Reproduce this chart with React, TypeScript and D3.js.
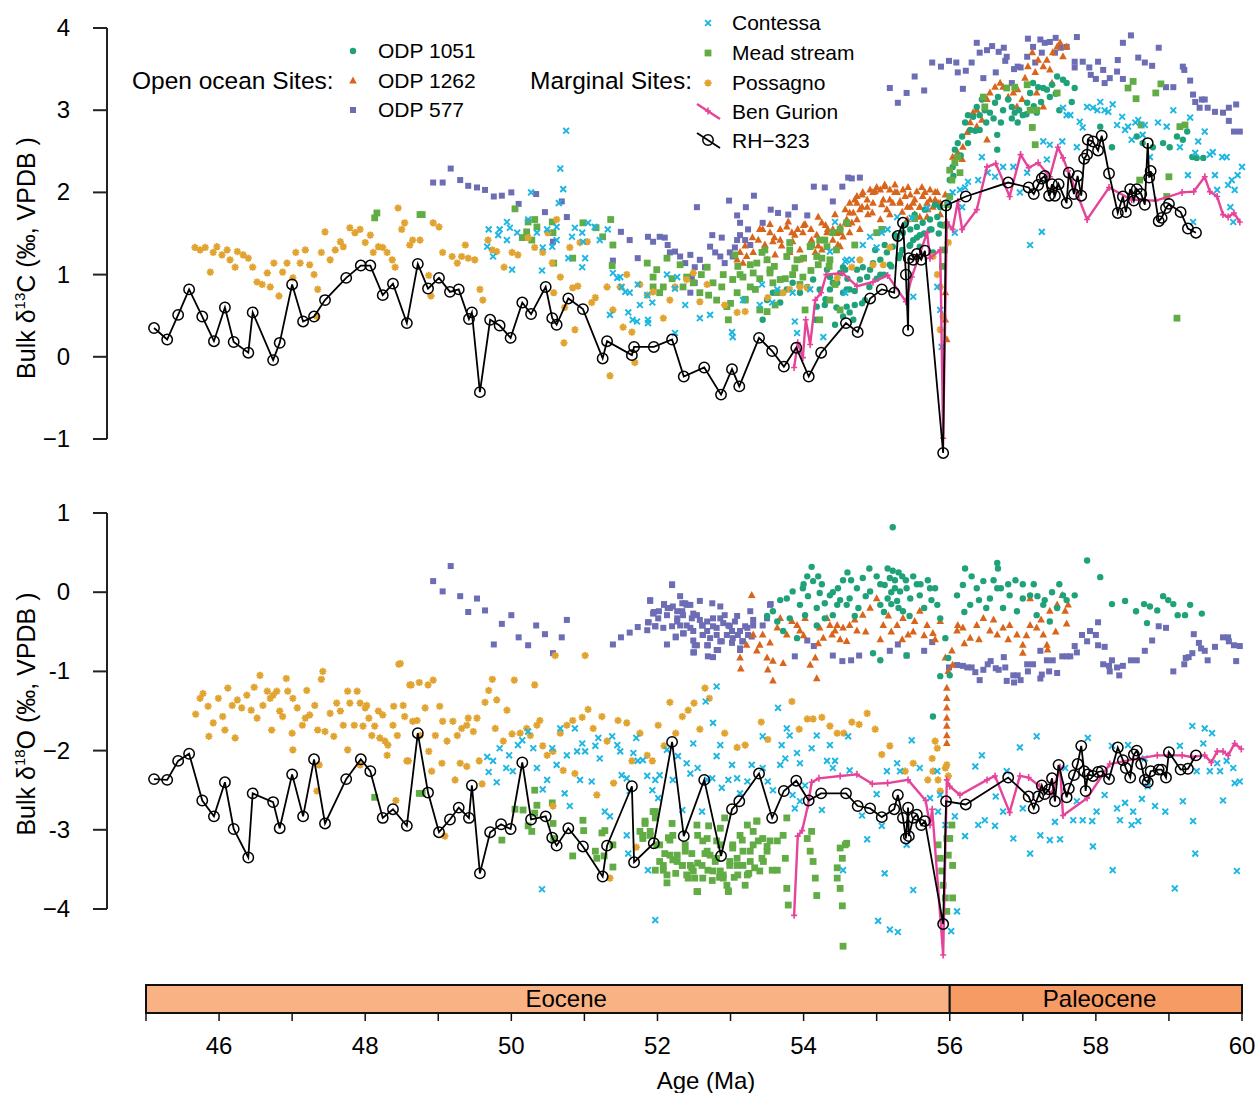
import React from 'react';
import * as d3 from 'd3';

type Pt = [number, number];

// ---------- data: age (Ma), value (permil) ----------
const xTicks = d3.range(45, 61);
const xTickLabels = [46, 48, 50, 52, 54, 56, 58, 60];
const yTicksC = [-1, 0, 1, 2, 3, 4];
const yLabelsC = ['−1', '0', '1', '2', '3', '4'];
const yTicksO = [-4, -3, -2, -1, 0, 1];
const yLabelsO = ['−4', '-3', '−2', '-1', '0', '1'];
const epochs = [
  { name: 'Eocene', from: 45, to: 56, labelAt: 50.75 },
  { name: 'Paleocene', from: 56, to: 60, labelAt: 58.05 },
];

const rhC: Pt[] = [[45.11,0.35],[45.29,0.21],[45.44,0.51],[45.59,0.82],[45.77,0.49],[45.93,0.19],[46.08,0.60],[46.20,0.18],[46.40,0.05],[46.46,0.54],[46.74,-0.04],[46.83,0.17],[47.00,0.88],[47.15,0.43],[47.30,0.49],[47.45,0.69],[47.74,0.96],[47.94,1.11],[48.07,1.11],[48.24,0.75],[48.38,0.89],[48.57,0.41],[48.72,1.13],[48.86,0.83],[49.01,0.96],[49.16,0.79],[49.28,0.82],[49.42,0.46],[49.46,0.54],[49.57,-0.43],[49.71,0.45],[49.84,0.38],[49.99,0.23],[50.15,0.66],[50.27,0.52],[50.47,0.85],[50.56,0.47],[50.62,0.39],[50.78,0.71],[50.98,0.58],[51.25,-0.02],[51.31,0.19],[51.65,0.02],[51.68,0.12],[51.95,0.12],[52.20,0.21],[52.36,-0.24],[52.64,-0.13],[52.87,-0.46],[53.02,-0.15],[53.12,-0.36],[53.39,0.23],[53.57,0.07],[53.73,-0.12],[53.90,0.11],[54.07,-0.24],[54.24,0.05],[54.58,0.41],[54.74,0.30],[54.91,0.71],[55.07,0.82],[55.24,0.78],[55.29,1.47],[55.36,1.63],[55.40,1.00],[55.43,0.32],[55.44,1.20],[55.50,1.18],[55.55,1.25],[55.61,1.18],[55.66,1.29],[55.91,-1.17],[55.95,1.84],[56.22,1.95],[56.80,2.12],[57.08,2.06],[57.15,1.98],[57.21,2.09],[57.26,2.17],[57.30,2.20],[57.36,1.96],[57.40,2.10],[57.44,1.96],[57.49,2.10],[57.60,1.87],[57.63,2.24],[57.70,1.98],[57.75,2.20],[57.80,1.96],[57.84,2.41],[57.88,2.46],[57.89,2.64],[57.96,2.62],[58.03,2.51],[58.08,2.69],[58.18,2.23],[58.30,1.75],[58.37,1.95],[58.41,1.76],[58.47,2.04],[58.52,1.90],[58.56,2.04],[58.62,1.98],[58.67,1.85],[58.71,2.60],[58.73,2.18],[58.75,2.26],[58.86,1.65],[58.90,1.69],[58.96,1.81],[59.00,1.86],[59.16,1.76],[59.26,1.56],[59.37,1.51]];

const rhO: Pt[] = [[45.11,-2.36],[45.29,-2.37],[45.44,-2.13],[45.59,-2.04],[45.77,-2.63],[45.93,-2.83],[46.08,-2.40],[46.20,-2.99],[46.40,-3.35],[46.46,-2.54],[46.74,-2.65],[46.83,-2.98],[47.00,-2.30],[47.15,-2.83],[47.30,-2.11],[47.45,-2.92],[47.74,-2.36],[47.94,-2.11],[48.07,-2.26],[48.24,-2.85],[48.38,-2.74],[48.57,-2.95],[48.72,-1.78],[48.86,-2.53],[49.01,-3.03],[49.16,-2.87],[49.28,-2.72],[49.42,-2.85],[49.46,-2.44],[49.57,-3.55],[49.71,-3.03],[49.86,-2.93],[49.99,-2.99],[50.15,-2.15],[50.27,-2.87],[50.47,-2.83],[50.56,-3.10],[50.62,-3.20],[50.78,-2.98],[50.98,-3.21],[51.25,-3.59],[51.31,-3.20],[51.65,-2.45],[51.68,-3.41],[51.95,-3.17],[52.20,-1.89],[52.36,-3.08],[52.64,-2.37],[52.87,-3.33],[53.02,-2.74],[53.12,-2.64],[53.39,-2.29],[53.57,-2.85],[53.73,-2.51],[53.90,-2.38],[54.07,-2.63],[54.24,-2.54],[54.58,-2.54],[54.74,-2.70],[54.91,-2.73],[55.07,-2.84],[55.24,-2.74],[55.29,-2.56],[55.36,-2.85],[55.40,-3.11],[55.43,-2.72],[55.44,-3.08],[55.50,-2.85],[55.55,-2.81],[55.61,-2.94],[55.66,-2.89],[55.91,-4.19],[55.95,-2.64],[56.22,-2.68],[56.80,-2.34],[57.08,-2.58],[57.15,-2.73],[57.21,-2.58],[57.26,-2.44],[57.30,-2.55],[57.36,-2.49],[57.40,-2.35],[57.44,-2.64],[57.49,-2.18],[57.60,-2.59],[57.63,-2.48],[57.70,-2.31],[57.75,-2.17],[57.80,-1.94],[57.84,-2.26],[57.86,-2.51],[57.89,-2.30],[57.96,-2.32],[58.03,-2.27],[58.08,-2.26],[58.18,-2.36],[58.30,-1.96],[58.37,-2.12],[58.41,-2.22],[58.47,-2.34],[58.52,-2.05],[58.56,-2.00],[58.62,-2.17],[58.67,-2.37],[58.71,-2.40],[58.75,-2.26],[58.86,-2.24],[58.90,-2.24],[58.96,-2.34],[59.00,-2.02],[59.16,-2.24],[59.26,-2.23],[59.37,-2.06]];

const benGurionC: Pt[] = [[53.87,-0.13],[53.92,0.17],[53.99,-0.01],[54.03,0.45],[54.09,0.15],[54.16,0.69],[54.24,0.78],[54.31,1.00],[54.53,1.02],[54.73,0.86],[54.95,0.91],[55.15,0.99],[55.40,0.67],[55.48,0.97],[55.69,1.51],[55.73,1.20],[55.87,1.30],[55.91,-0.99],[55.96,1.64],[56.04,1.55],[56.11,1.89],[56.17,1.55],[56.37,1.79],[56.51,2.31],[56.63,2.35],[56.82,1.95],[56.97,2.46],[57.08,2.30],[57.21,2.36],[57.37,2.19],[57.48,2.55],[57.55,2.42],[57.62,2.26],[57.88,1.67],[58.18,2.06],[58.49,1.91],[58.82,1.90],[59.18,2.00],[59.34,2.01],[59.49,2.19],[59.56,2.01],[59.66,1.95],[59.74,1.73],[59.81,1.70],[59.89,1.75],[59.97,1.64]];

const benGurionO: Pt[] = [[53.87,-4.08],[53.92,-3.08],[53.98,-3.01],[54.06,-2.69],[54.11,-2.40],[54.21,-2.35],[54.50,-2.32],[54.73,-2.30],[54.94,-2.42],[55.15,-2.41],[55.43,-2.37],[55.67,-2.63],[55.73,-2.94],[55.76,-2.74],[55.91,-4.58],[55.96,-2.37],[56.00,-2.45],[56.14,-2.56],[56.51,-2.37],[56.62,-2.32],[56.82,-2.78],[56.96,-2.32],[57.08,-2.34],[57.23,-2.45],[57.40,-2.54],[57.51,-2.21],[57.55,-2.82],[57.88,-2.60],[58.19,-2.17],[58.51,-2.11],[58.84,-2.06],[58.99,-2.06],[59.18,-2.06],[59.31,-2.08],[59.49,-2.06],[59.58,-2.15],[59.66,-2.01],[59.74,-2.01],[59.81,-2.06],[59.90,-1.91],[59.99,-1.98]];

const possagnoC: Pt[] = [[45.67,1.33],[45.74,1.30],[45.81,1.33],[45.88,1.03],[45.92,1.27],[45.97,1.34],[46.04,1.24],[46.11,1.30],[46.15,1.18],[46.22,1.09],[46.25,1.28],[46.33,1.24],[46.40,1.20],[46.46,1.09],[46.52,0.91],[46.59,0.88],[46.66,1.02],[46.70,0.85],[46.75,1.14],[46.82,0.74],[46.87,1.03],[46.93,1.14],[47.01,0.96],[47.05,1.27],[47.11,1.14],[47.18,1.30],[47.24,1.12],[47.30,1.00],[47.35,0.82],[47.40,1.27],[47.45,1.52],[47.52,1.18],[47.59,1.30],[47.66,1.40],[47.70,1.34],[47.79,1.57],[47.86,1.51],[47.93,1.55],[48.00,1.39],[48.07,1.48],[48.11,1.27],[48.18,1.34],[48.24,1.33],[48.30,1.27],[48.37,1.18],[48.41,1.09],[48.45,1.81],[48.50,1.55],[48.54,1.63],[48.61,1.36],[48.65,1.42],[47.34,0.49],[48.75,1.42],[48.93,1.63],[49.01,1.58],[49.06,1.27],[49.19,1.22],[49.26,1.14],[49.32,1.22],[49.41,1.20],[49.50,1.18],[49.37,1.36],[48.87,0.99],[48.90,0.74],[49.57,0.82],[49.61,0.69],[49.68,1.42],[49.74,1.30],[49.80,1.28],[49.90,1.09],[50.01,1.27],[50.09,1.24],[50.23,1.45],[50.32,1.33],[50.43,1.27],[50.50,1.51],[50.62,1.67],[50.56,1.14],[50.67,0.97],[50.80,1.33],[50.94,1.39],[51.04,1.40],[50.84,0.84],[50.91,0.86],[50.73,0.60],[50.58,0.78],[51.15,0.72],[51.10,0.66],[51.31,0.85],[51.39,0.57],[51.49,0.85],[51.53,0.36],[51.65,0.30],[51.69,-0.07],[51.35,-0.23],[50.87,0.33],[50.72,0.17],[51.58,1.00],[51.76,0.88],[51.86,0.75],[51.94,0.79],[52.08,0.47],[52.17,0.69],[52.24,0.85],[52.40,0.94],[52.49,1.02],[52.58,0.67],[52.68,0.88],[52.92,0.63],[53.09,0.54],[53.20,0.55],[53.51,0.72],[53.72,0.78],[53.81,0.82],[53.95,0.85],[54.05,0.84],[54.66,1.09],[54.77,1.18],[54.95,1.12],[55.09,1.12],[55.18,1.33],[54.46,0.96],[55.83,1.00],[55.87,0.85],[55.87,0.33],[55.91,0.49],[55.98,1.39],[55.77,1.22]];

const contessaC: Pt[] = [[50.75,2.75],[50.67,2.29],[50.71,2.04],[50.65,1.87],[50.27,2.00],[49.69,1.55],[49.84,1.55],[49.94,1.64],[49.98,1.57],[49.75,1.22],[49.82,1.48],[49.94,1.42],[50.01,1.06],[50.08,1.51],[50.23,1.67],[50.35,1.51],[50.49,1.55],[50.43,1.33],[50.56,1.34],[50.62,1.58],[50.62,1.42],[50.42,1.05],[50.87,1.57],[50.83,1.46],[50.97,1.51],[50.98,1.40],[51.05,1.63],[51.14,1.58],[51.21,1.42],[51.32,1.55],[50.78,1.20],[50.97,1.09],[51.01,1.20],[49.67,1.34],[51.39,1.02],[51.45,0.96],[51.49,0.97],[51.51,0.85],[51.56,0.79],[51.62,0.78],[51.73,0.88],[51.76,0.63],[51.86,0.75],[51.93,0.66],[51.35,0.51],[51.60,0.54],[51.66,0.45],[51.72,0.43],[51.87,0.45],[51.87,0.41],[52.13,1.00],[52.24,0.83],[52.27,0.97],[52.38,0.63],[52.58,0.47],[52.72,0.51],[53.03,0.24],[53.02,0.30],[53.17,0.69],[53.43,0.88],[53.40,0.63],[53.57,0.66],[53.64,0.82],[53.85,0.78],[53.88,0.43],[53.91,0.29],[52.24,0.29],[54.09,0.82],[54.27,0.24],[54.43,1.64],[54.59,1.18],[54.57,0.78],[54.36,1.28],[54.57,1.16],[54.66,1.18],[54.81,1.36],[54.91,1.46],[55.00,1.33],[55.07,1.51],[55.15,1.55],[55.28,1.70],[55.48,1.69],[55.50,0.73],[55.69,1.81],[55.83,0.85],[55.87,0.57],[55.89,0.12],[55.98,1.87],[56.04,2.00],[56.07,1.51],[56.14,2.03],[56.21,2.06],[56.17,1.82],[56.25,2.13],[56.39,2.15],[56.44,2.43],[56.52,2.24],[56.62,2.19],[56.73,2.31],[56.87,2.31],[56.96,2.00],[57.06,2.24],[57.10,1.36],[57.26,1.52],[57.28,2.62],[57.37,2.58],[57.33,2.40],[57.54,2.62],[57.55,3.03],[57.60,2.94],[57.65,2.94],[57.74,2.55],[57.78,2.86],[57.82,2.79],[57.88,3.04],[57.96,3.03],[58.02,3.00],[58.06,3.10],[58.12,3.00],[58.17,2.98],[58.23,3.07],[58.29,2.82],[58.36,2.92],[58.40,2.76],[58.44,2.80],[58.49,2.64],[58.54,2.85],[58.58,2.88],[58.67,2.82],[58.64,2.70],[58.74,2.43],[58.85,2.85],[58.97,2.80],[59.06,3.00],[59.15,2.55],[59.29,2.91],[59.26,2.21],[59.36,2.48],[59.40,2.62],[59.49,2.74],[59.56,2.46],[59.60,2.49],[59.63,2.21],[59.73,2.43],[59.79,2.43],[59.81,2.09],[59.86,2.15],[59.90,2.03],[59.94,2.21],[60.00,2.31],[59.84,1.82],[59.88,1.64],[59.33,1.64],[59.66,2.03]];

const meadC: Pt[] = [[48.16,1.75],[48.13,1.69],[48.75,1.73],[48.78,1.73],[50.05,1.80],[50.23,1.64],[50.32,1.67],[50.35,1.58],[50.21,1.52],[50.15,1.45],[50.28,1.42],[50.56,1.64],[50.57,1.51],[50.58,1.14],[50.98,1.63],[51.16,1.57],[51.25,1.46],[51.36,1.67],[51.39,1.36],[51.38,1.11],[50.84,1.20],[51.86,1.14],[51.94,0.97],[51.99,1.06],[52.08,0.85],[52.13,1.20],[51.94,0.85],[52.03,0.78],[52.31,1.12],[52.40,0.97],[52.49,0.90],[52.58,0.78],[52.68,1.09],[52.76,0.90],[52.81,0.69],[52.88,0.85],[52.95,0.61],[52.97,0.45],[53.03,0.94],[53.09,0.78],[53.17,0.97],[53.27,0.85],[53.31,1.02],[53.36,1.14],[53.43,1.27],[53.50,1.18],[53.54,1.02],[53.58,0.90],[53.64,0.78],[53.68,0.94],[53.77,1.22],[53.81,1.39],[53.91,1.18],[53.99,0.97],[54.09,1.34],[54.18,1.22],[54.22,1.42],[54.32,1.34],[54.40,1.51],[54.50,1.55],[54.59,1.63],[54.70,1.36],[55.00,1.51],[55.07,1.55],[55.52,1.68],[52.20,0.95],[52.35,0.85],[52.60,1.00],[52.70,0.75],[52.90,1.00],[53.00,0.65],[53.10,1.10],[53.20,0.70],[53.40,0.95],[53.50,0.55],[53.60,1.10],[53.75,0.95],[53.85,1.00],[54.00,1.20],[54.10,1.05],[54.25,1.20],[54.35,1.10],[54.45,1.30],[55.90,1.10],[55.93,1.30],[55.95,1.60],[55.97,1.85],[56.00,1.95],[56.00,2.27],[56.03,2.15],[56.07,2.36],[56.11,2.43],[56.14,2.24],[56.46,3.16],[56.48,3.04],[56.78,3.27],[56.89,3.28],[57.06,3.31],[57.13,2.79],[57.10,3.00],[57.19,3.00],[57.17,2.58],[57.47,3.21],[58.44,3.27],[58.51,3.35],[58.55,3.14],[58.82,3.21],[58.89,3.32],[58.62,2.82],[59.15,2.80],[59.22,2.82],[59.00,2.19],[58.60,2.15],[58.97,1.95],[59.11,0.47],[53.06,1.24],[53.13,1.00],[53.20,0.69],[53.27,1.12],[53.34,0.82],[53.40,0.57],[53.47,1.30],[53.54,1.06],[53.61,0.63],[53.81,1.30],[53.88,1.08],[53.95,0.88],[54.02,0.57],[54.11,1.36],[54.20,1.12],[54.29,1.42],[54.36,1.18],[54.43,0.88],[54.36,0.69],[54.50,0.57],[54.22,0.45]];

const odp577C: Pt[] = [[49.17,2.29],[48.93,2.12],[49.06,2.12],[49.30,2.15],[49.41,2.08],[49.53,2.06],[49.64,2.03],[49.76,1.95],[49.87,1.96],[50.00,2.00],[50.10,1.86],[50.34,1.98],[50.69,1.89],[50.46,1.76],[50.57,1.40],[50.76,1.70],[51.39,1.17],[51.50,1.52],[51.62,1.42],[51.73,1.20],[51.87,1.46],[51.94,1.40],[52.03,1.46],[52.10,1.45],[52.14,1.36],[52.17,1.27],[52.24,1.28],[52.31,1.22],[52.38,1.14],[52.45,1.24],[52.51,1.09],[52.58,1.18],[52.65,1.09],[52.45,0.78],[52.51,0.90],[52.47,0.97],[52.72,1.34],[52.79,1.27],[52.86,1.22],[52.92,1.14],[52.99,1.27],[53.06,1.33],[53.09,1.42],[53.13,1.48],[53.20,1.42],[53.27,1.36],[53.03,1.22],[52.54,1.82],[52.75,1.48],[52.88,1.45],[52.98,1.90],[53.09,1.72],[53.13,1.63],[53.21,1.82],[53.24,1.55],[53.32,1.96],[53.44,1.63],[53.55,1.79],[53.65,1.75],[53.79,1.73],[53.88,1.82],[54.05,1.72],[54.14,2.07],[54.29,2.06],[54.40,1.89],[54.53,2.07],[54.61,2.18],[54.66,2.17],[54.77,2.18],[55.18,3.27],[55.29,3.09],[55.41,3.21],[55.52,3.41],[55.65,3.24],[55.76,3.58],[55.88,3.53],[55.99,3.60],[56.09,3.58],[56.11,3.46],[56.18,3.26],[56.22,3.48],[56.30,3.58],[56.37,3.82],[56.46,3.39],[56.41,3.70],[56.51,3.73],[56.58,3.78],[56.63,3.46],[56.67,3.71],[56.74,3.76],[56.78,3.65],[56.76,3.60],[56.85,3.33],[56.88,3.50],[56.93,3.53],[56.97,3.52],[57.06,3.65],[57.07,3.87],[57.14,3.77],[57.17,3.58],[57.24,3.86],[57.26,3.70],[57.30,3.82],[57.37,3.83],[57.45,3.88],[57.44,3.70],[57.52,3.76],[57.60,3.77],[57.74,3.89],[57.71,3.59],[57.71,3.52],[57.82,3.59],[57.91,3.52],[57.93,3.43],[58.00,3.38],[58.03,3.59],[58.10,3.49],[58.12,3.33],[58.19,3.39],[58.29,3.47],[58.30,3.61],[58.37,3.38],[58.37,3.82],[58.48,3.91],[58.58,3.64],[58.67,3.58],[58.77,3.54],[58.86,3.76],[58.96,3.28],[59.06,3.28],[59.21,3.49],[59.19,3.53],[59.29,3.36],[59.33,3.19],[59.36,3.10],[59.45,3.13],[59.49,3.13],[59.42,3.03],[59.53,3.03],[59.63,2.98],[59.74,2.97],[59.82,3.03],[59.92,3.07],[59.82,2.87],[59.89,2.74],[59.97,2.74]];

const odp1262C: Pt[] = [[53.09,1.18],[53.13,1.27],[53.22,1.22],[53.31,1.27],[53.17,1.14],[53.38,1.42],[53.44,1.55],[53.54,1.51],[53.58,1.40],[53.68,1.55],[53.77,1.58],[53.84,1.51],[53.92,1.55],[53.99,1.51],[54.09,1.39],[54.18,1.48],[54.25,1.63],[54.32,1.51],[54.40,1.42],[54.50,1.58],[54.59,1.67],[53.50,1.18],[53.81,1.27],[53.95,1.18],[54.16,1.27],[54.40,1.55],[54.50,1.51],[54.63,1.75],[54.73,1.87],[54.80,1.82],[54.87,1.91],[54.95,2.00],[55.05,2.03],[55.11,2.07],[55.18,1.91],[55.25,2.00],[55.32,1.87],[55.39,1.95],[55.46,1.82],[55.52,1.91],[55.59,1.82],[55.66,2.00],[55.73,1.91],[55.80,2.00],[55.84,1.87],[54.50,1.34],[54.77,1.55],[55.05,1.67],[55.42,1.67],[55.69,1.70],[55.94,0.45],[55.96,0.21],[55.94,0.78],[56.04,2.43],[56.11,2.48],[56.18,2.55],[56.24,2.73],[56.28,2.85],[56.32,2.97],[56.37,3.00],[56.44,2.88],[56.51,3.13],[56.55,3.21],[56.62,3.28],[56.69,3.33],[56.73,3.28],[56.80,3.16],[56.87,3.21],[56.93,3.25],[56.99,3.13],[57.03,3.39],[57.07,3.53],[57.13,3.70],[57.17,3.46],[57.21,3.61],[57.28,3.53],[57.33,3.61],[57.37,3.49],[57.41,3.70],[57.47,3.77],[57.51,3.82],[57.55,3.65],[57.60,3.77],[56.37,2.80],[56.51,2.64],[56.17,2.40],[56.92,3.04],[57.19,3.21],[57.28,3.04],[57.40,3.33],[54.63,1.87],[54.73,1.95],[54.81,2.00],[54.91,2.03],[55.00,2.06],[55.11,2.09],[55.18,2.03],[55.28,2.00],[55.36,2.03],[55.46,1.97],[55.55,2.01],[55.63,1.95],[55.73,2.03],[55.83,2.00],[54.68,1.75],[54.77,1.79],[54.87,1.82],[54.95,1.87],[55.09,1.91],[55.22,1.87],[55.32,1.89],[55.42,1.82],[55.50,1.87],[55.59,1.82],[55.69,1.87],[55.77,1.82],[55.87,1.87],[54.66,1.63],[54.73,1.67],[54.63,1.51],[54.94,1.75],[55.14,1.79],[55.59,1.70],[54.54,1.46],[54.57,1.63],[53.20,1.35],[53.30,1.45],[53.45,1.30],[53.60,1.45],[53.70,1.35],[53.85,1.40],[54.00,1.60],[54.10,1.55],[54.20,1.35],[54.30,1.60],[54.45,1.50],[53.40,1.55],[53.47,1.36],[53.54,1.61],[53.61,1.24],[53.68,1.42],[53.79,1.64],[53.88,1.48],[53.95,1.30],[54.02,1.61],[54.11,1.42],[54.20,1.70],[54.25,1.30],[54.33,1.55],[54.43,1.73],[54.47,1.36],[54.57,1.79],[54.61,1.61],[54.70,1.91],[54.80,1.97],[54.88,1.73],[54.98,2.01],[55.07,1.85],[55.18,1.73],[55.25,2.09],[55.35,1.76],[55.43,2.06],[55.52,1.73],[55.62,2.06],[55.70,1.79],[55.80,1.91],[55.87,1.73],[55.94,1.97]];

const odp1051C: Pt[] = [[53.44,0.45],[53.50,0.69],[53.58,0.78],[53.68,0.66],[53.77,0.82],[53.85,0.90],[53.95,0.78],[54.05,0.85],[54.13,0.94],[54.22,0.82],[54.32,1.06],[54.40,0.90],[54.50,1.02],[54.59,0.82],[54.54,0.49],[54.18,0.61],[54.36,0.97],[54.46,0.90],[54.54,0.78],[54.59,0.61],[54.63,0.54],[54.68,0.45],[54.54,1.09],[54.73,1.06],[54.81,1.09],[54.87,0.97],[54.95,1.14],[55.05,1.18],[55.14,1.27],[55.22,1.34],[55.28,1.46],[55.36,1.51],[55.46,1.55],[55.50,1.42],[55.55,1.58],[55.63,1.63],[55.73,1.67],[55.83,1.70],[55.87,1.82],[55.59,1.34],[55.77,1.27],[56.00,2.15],[56.04,2.31],[56.07,2.52],[56.11,2.60],[56.17,2.68],[56.21,2.85],[56.25,2.94],[56.28,2.76],[56.32,2.92],[56.37,3.04],[56.41,2.94],[56.44,3.13],[56.48,3.00],[56.55,2.97],[56.62,3.09],[56.66,3.16],[56.73,3.00],[56.80,3.13],[56.85,3.04],[56.89,2.97],[56.93,2.85],[57.00,2.94],[57.06,3.09],[57.10,3.21],[57.14,3.33],[57.21,3.28],[57.28,3.27],[57.33,3.25],[57.40,3.31],[57.47,3.41],[57.55,3.37],[57.60,3.33],[57.71,3.27],[57.67,3.10],[57.37,3.16],[57.19,2.97],[56.65,2.70],[56.65,2.52],[56.41,2.76],[58.06,2.80],[58.22,2.55],[58.56,2.68],[58.64,2.60],[58.78,2.55],[58.92,2.60],[59.01,2.55],[59.11,2.68],[59.19,2.64],[59.25,2.74],[59.32,2.43],[59.38,2.42],[59.47,2.42],[54.30,0.70],[54.45,0.60],[54.60,0.95],[54.70,0.80],[54.80,0.65],[54.90,0.85],[55.00,0.95],[55.10,1.00],[55.20,1.10],[55.30,1.20],[55.35,1.30],[55.45,1.35],[55.55,1.45],[55.65,1.50],[55.75,1.55],[55.85,1.50],[55.90,1.60],[56.05,2.20],[56.15,2.45],[56.25,2.60],[56.35,2.75],[56.50,2.85],[56.60,2.90],[56.70,2.85],[56.85,2.90],[56.95,3.00],[57.05,2.95],[57.15,3.05],[57.25,3.10],[57.45,3.20],[57.50,3.00],[54.57,1.06],[54.63,0.82],[54.70,0.63],[54.77,0.94],[54.84,0.69],[54.91,1.06],[54.98,1.30],[55.05,1.00],[55.11,1.36],[55.18,1.12],[55.25,1.48],[55.32,1.24],[55.39,1.61],[55.46,1.36],[55.52,1.73],[55.59,1.48],[55.66,1.79],[55.73,1.55],[55.80,1.85],[55.87,1.61],[54.36,0.82],[54.29,0.63],[54.16,0.45],[54.43,0.39]];

const possagnoO: Pt[] = [[45.68,-1.54],[45.74,-1.34],[45.78,-1.28],[45.85,-1.44],[45.86,-1.82],[45.92,-1.65],[45.99,-1.34],[46.05,-1.57],[46.08,-1.74],[46.12,-1.21],[46.18,-1.43],[46.22,-1.84],[46.25,-1.36],[46.31,-1.46],[46.38,-1.30],[46.44,-1.49],[46.48,-1.20],[46.52,-1.59],[46.56,-1.05],[46.60,-1.43],[46.66,-1.25],[46.70,-1.34],[46.72,-1.74],[46.74,-1.30],[46.79,-1.25],[46.83,-1.50],[46.87,-1.57],[46.92,-1.09],[46.94,-1.25],[47.01,-1.34],[47.01,-1.99],[47.00,-1.78],[47.07,-1.46],[47.14,-1.68],[47.18,-1.59],[47.20,-1.24],[47.24,-1.55],[47.31,-1.43],[47.35,-1.74],[47.40,-1.10],[47.42,-1.00],[47.45,-1.76],[47.52,-1.53],[47.57,-1.82],[47.61,-1.40],[47.66,-1.50],[47.70,-1.68],[47.76,-1.25],[47.79,-1.40],[47.85,-1.68],[47.89,-1.25],[47.93,-1.40],[47.97,-1.69],[48.00,-1.46],[48.02,-1.43],[48.05,-1.59],[48.09,-1.81],[48.13,-1.69],[48.18,-1.50],[48.20,-1.84],[48.24,-1.55],[48.27,-1.88],[48.30,-2.06],[48.31,-1.93],[48.38,-1.68],[48.39,-1.44],[48.44,-1.81],[48.46,-0.91],[48.52,-1.43],[48.54,-1.57],[48.57,-2.13],[48.61,-1.17],[48.65,-1.63],[47.93,-2.18],[47.76,-1.99],[47.37,-2.18],[47.34,-2.51],[48.42,-2.63],[48.48,-0.90],[48.63,-1.17],[48.74,-1.14],[48.86,-1.17],[48.93,-1.11],[48.82,-1.46],[48.71,-1.62],[48.75,-1.81],[48.96,-1.81],[49.02,-1.44],[49.06,-1.63],[49.12,-1.88],[49.20,-1.63],[49.26,-1.81],[49.32,-1.72],[49.39,-1.68],[49.41,-1.59],[49.48,-1.76],[49.53,-1.59],[48.59,-2.13],[48.87,-2.01],[48.91,-2.26],[49.05,-2.16],[49.23,-2.37],[49.30,-2.16],[49.39,-2.20],[49.56,-2.13],[49.60,-2.42],[49.64,-1.39],[49.69,-1.24],[49.74,-1.10],[49.80,-1.36],[49.78,-1.72],[49.94,-1.49],[50.04,-1.11],[50.32,-1.17],[49.89,-1.88],[50.01,-1.79],[50.12,-1.78],[50.21,-1.72],[50.26,-1.81],[50.35,-1.68],[50.39,-1.62],[50.43,-1.94],[50.49,-2.06],[50.57,-2.01],[50.67,-1.78],[50.76,-1.68],[50.84,-1.62],[50.97,-1.58],[51.05,-1.48],[51.12,-1.72],[51.24,-1.57],[51.31,-1.88],[51.46,-1.62],[51.58,-1.65],[51.65,-2.13],[51.76,-1.78],[51.86,-2.06],[51.93,-2.13],[52.01,-1.68],[52.09,-1.94],[52.17,-1.39],[52.25,-1.78],[52.34,-1.57],[52.42,-1.49],[52.50,-1.40],[52.58,-1.73],[52.65,-1.21],[52.71,-1.34],[52.92,-1.78],[53.09,-1.96],[53.20,-1.93],[53.42,-1.64],[53.51,-1.86],[53.84,-1.38],[53.94,-1.73],[54.05,-1.60],[54.13,-1.60],[54.25,-1.58],[54.36,-1.69],[54.46,-1.78],[54.55,-1.78],[50.60,-0.80],[51.01,-0.80],[51.17,-2.56],[51.40,-2.41],[51.71,-3.22],[51.35,-3.61],[49.09,-3.08],[50.57,-2.70],[50.87,-2.29],[50.71,-2.25],[54.66,-1.64],[54.76,-1.67],[54.87,-1.53],[54.98,-1.73],[55.07,-2.05],[55.18,-1.94],[55.39,-2.26],[55.50,-2.16],[55.70,-2.37],[55.76,-2.10],[55.80,-1.88],[55.83,-1.97],[55.77,-2.26],[55.84,-2.37],[55.87,-2.51],[55.94,-2.22],[55.96,-2.18],[55.98,-2.32]];

const contessaO: Pt[] = [[49.67,-2.08],[49.75,-2.13],[49.69,-2.27],[49.80,-2.40],[49.84,-1.97],[49.93,-2.22],[49.97,-2.06],[50.02,-2.26],[50.09,-1.93],[50.15,-1.87],[50.23,-1.76],[50.30,-1.97],[50.35,-2.22],[50.43,-2.49],[50.49,-2.37],[50.56,-1.97],[50.62,-2.18],[50.67,-1.72],[50.73,-2.54],[50.76,-2.06],[50.80,-2.70],[50.87,-1.72],[50.90,-2.01],[50.97,-1.91],[50.94,-2.37],[51.01,-2.01],[51.10,-2.39],[51.15,-1.94],[51.19,-1.84],[51.21,-2.10],[51.28,-2.77],[51.35,-2.83],[51.38,-1.82],[51.45,-1.93],[51.49,-2.01],[51.51,-2.31],[51.58,-2.35],[51.62,-2.51],[51.67,-2.03],[51.71,-1.84],[51.73,-2.13],[51.80,-2.12],[51.86,-2.32],[51.93,-2.50],[51.97,-2.37],[52.01,-2.60],[52.03,-2.31],[52.13,-1.99],[52.21,-2.37],[52.28,-2.07],[52.34,-2.75],[52.40,-2.16],[52.45,-2.29],[52.49,-1.91],[52.55,-2.22],[52.61,-2.77],[52.68,-2.37],[52.75,-2.35],[52.81,-2.07],[52.86,-1.93],[52.88,-2.47],[52.97,-2.37],[53.02,-2.18],[53.09,-2.35],[53.13,-2.54],[53.23,-2.39],[53.29,-2.18],[53.44,-1.82],[53.51,-2.39],[53.58,-2.50],[53.65,-1.46],[53.70,-1.93],[53.77,-1.72],[53.81,-1.81],[53.91,-2.03],[53.95,-2.16],[54.02,-2.44],[54.11,-1.97],[54.18,-1.81],[54.32,-2.13],[54.36,-1.93],[54.40,-2.22],[54.61,-1.82],[54.54,-3.51],[54.25,-2.75],[53.85,-2.56],[53.88,-2.73],[53.95,-2.64],[52.81,-1.19],[52.66,-1.38],[52.76,-1.65],[51.97,-4.14],[50.42,-3.75],[51.58,-3.07],[51.60,-3.30],[51.87,-3.51],[53.68,-2.18],[53.75,-2.10],[53.44,-2.22],[54.43,-2.13],[54.63,-2.25],[54.80,-2.82],[54.87,-3.12],[55.00,-2.55],[55.07,-2.95],[55.14,-2.26],[55.28,-2.16],[55.32,-2.26],[55.48,-1.87],[55.59,-2.22],[55.41,-3.19],[55.11,-3.55],[55.50,-3.76],[55.02,-4.15],[55.18,-4.26],[55.29,-4.29],[55.73,-2.60],[55.83,-2.26],[55.87,-2.56],[55.84,-2.77],[55.94,-2.94],[56.07,-2.83],[56.10,-4.03],[56.02,-4.28],[56.21,-3.08],[56.35,-2.20],[56.44,-2.06],[56.39,-2.94],[56.48,-2.88],[56.62,-2.95],[56.63,-2.58],[56.73,-2.77],[56.78,-2.26],[56.87,-3.11],[56.96,-1.96],[57.00,-2.73],[57.10,-3.30],[57.19,-1.82],[57.24,-3.07],[57.37,-3.13],[57.44,-2.90],[57.51,-3.12],[57.58,-2.22],[57.69,-2.88],[57.74,-2.64],[57.82,-2.88],[57.89,-1.84],[57.95,-2.89],[57.96,-3.21],[58.01,-2.77],[58.12,-2.56],[58.22,-1.94],[58.23,-3.51],[58.29,-2.73],[58.33,-2.88],[58.40,-2.66],[58.44,-1.93],[58.49,-2.94],[58.51,-2.77],[58.58,-2.89],[58.63,-2.61],[58.67,-2.10],[58.71,-2.45],[58.81,-2.70],[58.95,-2.77],[59.08,-3.74],[59.15,-1.94],[59.19,-2.64],[59.33,-2.89],[59.36,-3.30],[59.38,-2.26],[59.47,-1.91],[59.49,-1.72],[59.59,-1.78],[59.56,-2.26],[59.66,-2.16],[59.70,-2.26],[59.74,-2.63],[59.79,-2.13],[59.88,-2.22],[59.90,-2.41],[59.97,-2.39],[59.93,-3.52],[59.32,-1.69]];

const meadO: Pt[] = [[48.13,-2.59],[48.74,-2.54],[48.78,-2.54],[50.05,-2.74],[50.16,-2.75],[50.23,-2.95],[50.28,-3.02],[50.32,-2.50],[50.35,-2.69],[50.32,-2.79],[50.56,-2.66],[50.57,-2.92],[50.58,-3.11],[49.87,-3.13],[50.84,-3.33],[50.98,-2.88],[50.99,-3.01],[51.15,-3.27],[51.17,-3.36],[51.24,-3.04],[51.28,-3.01],[51.27,-3.33],[51.39,-3.19],[51.39,-3.47],[51.83,-2.89],[51.90,-3.07],[51.80,-3.11],[51.94,-2.77],[51.99,-3.19],[52.03,-3.40],[52.08,-3.51],[52.13,-3.67],[52.17,-3.32],[52.21,-3.07],[52.27,-3.40],[52.34,-3.45],[52.38,-3.19],[52.42,-3.61],[52.47,-3.30],[52.49,-3.52],[52.54,-2.94],[52.55,-3.78],[52.61,-3.45],[52.62,-3.61],[52.68,-3.11],[52.72,-3.32],[52.76,-3.52],[52.81,-3.36],[52.86,-3.19],[52.90,-3.57],[52.92,-2.85],[52.97,-3.78],[52.99,-3.40],[53.03,-3.19],[53.09,-3.45],[53.13,-3.07],[53.17,-3.27],[53.23,-2.94],[53.27,-3.40],[53.31,-3.19],[53.36,-2.89],[53.40,-3.52],[53.44,-3.11],[53.50,-3.27],[53.54,-3.14],[53.64,-3.51],[53.72,-3.07],[53.75,-3.36],[53.77,-3.74],[53.79,-3.95],[53.77,-2.85],[54.05,-3.11],[54.09,-3.27],[54.13,-3.40],[54.16,-3.61],[54.18,-3.83],[54.11,-3.02],[54.50,-3.23],[54.53,-3.36],[54.46,-3.61],[54.50,-3.74],[54.53,-3.96],[54.54,-4.47],[54.59,-3.17],[51.76,-3.02],[54.46,-3.48],[54.57,-3.19],[55.84,-3.19],[55.87,-3.36],[55.89,-3.52],[55.91,-3.70],[55.94,-3.86],[55.96,-4.03],[55.98,-3.32],[56.00,-3.11],[56.03,-2.94],[56.04,-3.45],[56.04,-3.86],[55.96,-3.11],[52.25,-3.55],[52.45,-3.45],[52.65,-3.30],[52.85,-3.60],[53.05,-3.60],[53.25,-3.55],[53.45,-3.40],[52.15,-3.10],[52.70,-2.95],[53.20,-3.70],[51.83,-2.92],[51.97,-2.85],[51.90,-3.02],[51.80,-3.07],[52.03,-3.19],[52.10,-3.30],[52.20,-2.92],[52.17,-3.13],[52.21,-3.38],[52.08,-3.45],[51.97,-3.51],[52.13,-3.57],[52.27,-3.32],[52.34,-3.45],[52.38,-3.27],[52.40,-3.57],[52.47,-3.48],[52.51,-3.61],[52.55,-3.42],[52.62,-3.14],[52.68,-3.27],[52.69,-3.51],[52.75,-3.64],[52.79,-3.40],[52.81,-3.14],[52.86,-3.52],[52.90,-3.61],[52.95,-3.70],[52.99,-3.45],[53.03,-3.23],[53.09,-3.36],[53.10,-3.57],[53.16,-3.13],[53.17,-3.45],[53.23,-3.57],[53.27,-3.27],[53.31,-3.02],[53.33,-3.48],[53.36,-2.89],[53.38,-3.14],[53.43,-3.36],[53.50,-3.21],[53.57,-3.51],[53.64,-3.14],[52.54,-3.78],[52.97,-3.77],[52.55,-3.07],[52.86,-2.98],[51.97,-2.77]];

const odp577O: Pt[] = [[49.17,0.33],[48.93,0.14],[49.06,0.01],[49.30,-0.05],[49.53,-0.08],[49.41,-0.25],[49.64,-0.23],[49.76,-0.66],[49.87,-0.40],[50.00,-0.29],[50.10,-0.57],[50.23,-0.67],[50.34,-0.42],[50.46,-0.53],[50.57,-0.77],[50.69,-0.57],[50.76,-0.35],[51.39,-0.66],[51.50,-0.57],[51.62,-0.51],[51.73,-0.44],[51.86,-0.48],[51.90,-0.10],[51.88,-0.38],[51.94,-0.27],[51.97,-0.43],[52.02,-0.24],[52.09,-0.16],[52.13,-0.29],[52.20,0.09],[52.17,-0.20],[52.21,-0.18],[52.27,-0.33],[52.31,-0.05],[52.34,-0.24],[52.38,-0.14],[52.40,-0.42],[52.45,-0.16],[52.47,-0.33],[52.49,-0.49],[52.51,-0.67],[52.54,-0.29],[52.58,-0.11],[52.61,-0.42],[52.62,-0.54],[52.68,-0.37],[52.69,-0.67],[52.75,-0.14],[52.76,-0.43],[52.81,-0.54],[52.86,-0.33],[52.88,-0.62],[52.92,-0.29],[52.97,-0.42],[53.02,-0.49],[53.06,-0.37],[53.10,-0.54],[53.16,-0.62],[53.20,-0.43],[53.24,-0.54],[53.27,-0.24],[53.31,-0.42],[52.25,-0.57],[52.36,-0.52],[52.13,-0.66],[52.50,-0.76],[52.69,-0.81],[52.76,-0.82],[52.83,-0.73],[53.13,-0.73],[53.55,-0.15],[53.44,-0.42],[53.88,-0.81],[54.05,-0.61],[54.14,-0.68],[54.40,-0.80],[54.53,-0.87],[54.65,-0.86],[54.76,-0.80],[55.18,-0.74],[55.29,-0.66],[55.41,-0.80],[55.65,-0.74],[55.76,-0.63],[55.99,-0.95],[56.10,-0.92],[56.18,-0.93],[56.24,-0.95],[56.30,-0.95],[56.35,-1.01],[56.41,-1.11],[56.46,-0.98],[56.52,-0.91],[56.56,-0.87],[56.63,-0.96],[56.67,-0.98],[56.74,-0.82],[56.76,-0.95],[56.78,-1.12],[56.87,-1.05],[56.88,-1.14],[56.93,-1.05],[56.97,-1.11],[57.06,-0.91],[57.07,-1.00],[57.14,-0.91],[57.24,-1.09],[57.26,-1.04],[57.24,-0.74],[57.33,-0.86],[57.36,-1.00],[57.41,-0.86],[57.47,-1.02],[57.54,-0.81],[57.60,-0.81],[57.65,-0.81],[57.71,-0.68],[57.74,-0.76],[57.81,-0.54],[57.88,-0.62],[57.92,-0.49],[58.00,-0.54],[58.03,-0.67],[58.12,-0.69],[58.03,-0.38],[58.10,-0.91],[58.18,-0.93],[58.22,-0.86],[58.19,-1.00],[58.29,-0.95],[58.37,-0.93],[58.32,-1.05],[58.48,-0.86],[58.56,-0.86],[58.67,-0.74],[58.77,-0.61],[58.86,-0.43],[58.96,-0.45],[59.06,-1.00],[59.21,-0.91],[59.23,-0.83],[59.27,-0.82],[59.32,-0.77],[59.34,-0.53],[59.41,-0.64],[59.44,-0.71],[59.49,-0.74],[59.53,-0.86],[59.63,-0.69],[59.74,-0.57],[59.81,-0.57],[59.82,-0.62],[59.89,-0.67],[59.92,-0.87],[59.97,-0.68],[52.20,0.10],[51.90,-0.11],[52.09,-0.15],[51.95,-0.25],[52.01,-0.33],[51.87,-0.38],[51.97,-0.43],[52.08,-0.45],[52.14,-0.20],[52.27,-0.24],[52.34,-0.14],[52.40,-0.16],[52.49,-0.27],[52.35,-0.29],[52.27,-0.37],[52.20,-0.43],[52.31,-0.42],[52.35,-0.52],[52.45,-0.45],[52.49,-0.61],[52.54,-0.67],[52.58,-0.35],[52.62,-0.42],[52.68,-0.49],[52.72,-0.58],[52.76,-0.33],[52.81,-0.45],[52.86,-0.18],[52.90,-0.39],[52.95,-0.54],[52.99,-0.43],[53.03,-0.58],[53.09,-0.30],[53.13,-0.49],[53.17,-0.62],[53.23,-0.45],[53.31,-0.35],[53.29,-0.56],[52.68,-0.67],[52.81,-0.73],[52.49,-0.76],[52.25,-0.56],[52.62,-0.54],[52.86,-0.62],[53.02,-0.64],[53.13,-0.71],[53.54,-0.16],[53.50,-0.33]];

const odp1262O: Pt[] = [[53.13,-0.83],[53.14,-0.97],[53.22,-0.67],[53.29,-0.04],[53.31,-0.54],[53.36,-0.74],[53.40,-0.67],[53.44,-0.54],[53.50,-0.83],[53.54,-0.64],[53.58,-0.87],[53.58,-1.12],[53.51,-0.98],[53.64,-0.45],[53.68,-0.33],[53.72,-0.90],[53.77,-0.54],[53.84,-0.37],[53.91,-0.42],[53.95,-0.49],[54.02,-0.33],[54.09,-0.92],[54.16,-0.83],[54.18,-1.09],[54.22,-0.45],[54.27,-0.58],[54.32,-0.33],[54.39,-0.54],[54.46,-0.42],[54.54,-0.45],[54.59,-0.62],[54.36,-0.42],[54.43,-0.49],[54.63,-0.42],[54.73,-0.49],[54.81,-0.29],[54.91,-0.20],[55.00,-0.08],[55.09,-0.42],[55.16,-0.30],[55.28,-0.42],[55.36,-0.33],[55.43,-0.54],[55.52,-0.37],[55.59,-0.24],[55.69,-0.42],[55.77,-0.52],[55.87,-0.37],[55.94,-0.83],[55.98,-1.00],[55.96,-1.21],[55.96,-1.34],[55.96,-1.46],[55.96,-1.59],[55.96,-1.69],[55.96,-1.81],[55.96,-1.91],[56.03,-0.74],[56.10,-0.49],[56.18,-0.45],[56.28,-0.58],[56.37,-0.42],[56.46,-0.33],[56.55,-0.49],[56.65,-0.54],[56.73,-0.45],[56.82,-0.42],[56.92,-0.54],[57.00,-0.67],[57.00,-0.77],[57.10,-0.42],[57.19,-0.45],[57.28,-0.54],[57.33,-0.67],[57.37,-0.24],[57.47,-0.16],[57.54,-0.04],[57.58,-0.24],[57.62,-0.16],[57.34,-0.73],[57.10,-0.08],[56.04,-0.92],[56.11,-0.42],[54.00,-0.55],[54.20,-0.65],[54.50,-0.60],[54.70,-0.35],[54.85,-0.50],[55.05,-0.60],[55.20,-0.50],[55.35,-0.60],[55.50,-0.50],[55.65,-0.55],[55.80,-0.60],[56.20,-0.65],[56.40,-0.60],[56.60,-0.35],[56.80,-0.60],[57.05,-0.55],[57.25,-0.35],[57.45,-0.50],[57.60,-0.40]];

const odp1051O: Pt[] = [[53.50,-0.30],[53.58,-0.24],[53.68,-0.10],[53.77,-0.08],[53.85,0.01],[53.95,-0.16],[53.99,0.05],[54.06,-0.05],[54.11,0.32],[54.13,0.14],[54.18,-0.20],[54.22,-0.01],[54.29,-0.14],[54.36,-0.04],[54.40,-0.29],[54.47,0.05],[54.54,0.15],[54.59,-0.16],[53.81,-0.33],[53.72,-0.49],[53.91,-0.58],[54.18,-0.42],[53.64,-0.37],[54.02,-0.29],[54.29,-0.33],[54.46,-0.16],[54.63,-0.08],[54.73,0.05],[54.81,0.18],[54.91,0.01],[55.05,-0.16],[55.11,0.09],[55.15,-0.08],[55.18,0.18],[55.22,0.27],[55.25,0.05],[55.28,-0.11],[55.32,0.01],[55.36,-0.24],[55.41,0.05],[55.46,-0.08],[55.59,-0.04],[55.73,0.05],[55.83,-0.16],[55.87,-0.33],[55.94,-0.58],[55.98,-0.83],[56.00,-1.05],[55.77,-1.57],[55.87,-1.06],[56.10,-0.04],[56.18,0.09],[56.28,-0.16],[56.37,0.05],[56.46,0.14],[56.55,-0.08],[56.65,0.05],[56.73,-0.20],[56.82,-0.04],[56.92,-0.24],[57.00,-0.08],[57.10,-0.04],[57.19,-0.29],[57.28,-0.16],[57.37,-0.37],[57.47,-0.20],[57.55,-0.04],[57.71,-0.04],[56.21,0.30],[56.65,0.37],[56.66,0.30],[55.05,-0.86],[54.95,-0.77],[55.41,-0.80],[57.88,0.40],[58.06,0.19],[58.22,-0.15],[58.40,-0.11],[58.55,-0.24],[58.66,-0.15],[58.74,-0.18],[58.84,-0.23],[58.92,-0.05],[58.99,-0.10],[59.06,-0.15],[59.12,-0.29],[59.22,-0.29],[59.29,-0.16],[59.45,-0.27],[58.70,-0.39],[55.22,0.82],[54.00,0.10],[54.20,0.20],[54.40,0.00],[54.60,0.25],[54.70,-0.30],[54.85,-0.05],[55.00,0.20],[55.10,-0.25],[55.20,0.00],[55.25,0.15],[55.30,-0.20],[55.35,0.20],[55.45,-0.30],[55.55,0.10],[55.65,-0.20],[55.70,0.15],[55.80,0.05],[56.20,-0.25],[56.40,-0.10],[56.60,0.15],[56.80,0.10],[57.00,0.10],[57.20,-0.05],[57.40,0.00],[57.60,-0.10],[54.05,0.20],[54.25,0.10],[54.50,-0.10],[54.65,0.15],[54.75,-0.20],[54.90,0.30],[55.05,0.10],[55.15,0.30],[55.20,-0.15],[55.30,0.25],[55.40,0.15],[55.50,0.20],[55.60,0.10],[55.75,-0.10],[56.30,0.20],[56.50,-0.20],[56.70,0.05],[56.90,0.15],[57.15,0.10],[57.30,-0.10],[57.50,0.10]];

// ---------- look ----------
const COL = {
  o1051: '#1FA27A',
  o1262: '#D9651C',
  o577: '#6C6DB4',
  contessa: '#1DB6E3',
  mead: '#62AC45',
  possagno: '#E2A431',
  ben: '#E5449A',
};

const x = d3.scaleLinear().domain([45, 60]).range([146, 1242]);
const yC = d3.scaleLinear().domain([-1, 4]).range([439, 28]);
const yO = d3.scaleLinear().domain([-4, 1]).range([909, 513]);

type Kind = 'circle' | 'tri' | 'sq' | 'sqm' | 'x' | 'ast' | 'plus';

function glyph(kind: Kind, cx: number, cy: number, color: string, key: string | number) {
  switch (kind) {
    case 'circle':
      return <circle key={key} cx={cx} cy={cy} r={3.2} fill={color} />;
    case 'tri':
      return <path key={key} d={`M${cx},${cy - 4.4}L${cx + 3.8},${cy + 2.6}L${cx - 3.8},${cy + 2.6}Z`} fill={color} />;
    case 'sq':
      return <rect key={key} x={cx - 3} y={cy - 3} width={6} height={6} fill={color} />;
    case 'sqm':
      return <rect key={key} x={cx - 3.4} y={cy - 3.4} width={6.8} height={6.8} fill={color} />;
    case 'x':
      return (
        <path key={key} d={`M${cx - 2.9},${cy - 2.9}L${cx + 2.9},${cy + 2.9}M${cx - 2.9},${cy + 2.9}L${cx + 2.9},${cy - 2.9}`}
          stroke={color} strokeWidth={1.9} fill="none" />
      );
    case 'ast':
      return (
        <path key={key}
          d={`M${cx - 3.6},${cy}L${cx + 3.6},${cy}M${cx},${cy - 3.6}L${cx},${cy + 3.6}M${cx - 2.6},${cy - 2.6}L${cx + 2.6},${cy + 2.6}M${cx - 2.6},${cy + 2.6}L${cx + 2.6},${cy - 2.6}`}
          stroke={color} strokeWidth={1.9} fill="none" />
      );
    case 'plus':
      return (
        <path key={key} d={`M${cx - 3},${cy}L${cx + 3},${cy}M${cx},${cy - 3.5}L${cx},${cy + 3.5}`}
          stroke={color} strokeWidth={1.6} fill="none" />
      );
  }
}

const scatterC: { data: Pt[]; kind: Kind; color: string }[] = [
  { data: odp577C, kind: 'sq', color: COL.o577 },
  { data: odp1262C, kind: 'tri', color: COL.o1262 },
  { data: odp1051C, kind: 'circle', color: COL.o1051 },
  { data: meadC, kind: 'sqm', color: COL.mead },
  { data: possagnoC, kind: 'ast', color: COL.possagno },
  { data: contessaC, kind: 'x', color: COL.contessa },
];
const scatterO: { data: Pt[]; kind: Kind; color: string }[] = [
  { data: odp577O, kind: 'sq', color: COL.o577 },
  { data: odp1262O, kind: 'tri', color: COL.o1262 },
  { data: odp1051O, kind: 'circle', color: COL.o1051 },
  { data: meadO, kind: 'sqm', color: COL.mead },
  { data: possagnoO, kind: 'ast', color: COL.possagno },
  { data: contessaO, kind: 'x', color: COL.contessa },
];

const FONT = 'Liberation Sans, Arial, Helvetica, sans-serif';

function Panel({ y, scatter, ben, rh, ticks, labels, title, iso, titleY }: any) {
  const line = d3.line<Pt>().x(d => x(d[0])).y(d => y(d[1]));
  const [y0, y1] = y.range();
  return (
    <g>
      {scatter.map((s: any, si: number) =>
        <g key={si}>{s.data.map((d: Pt, i: number) => glyph(s.kind, x(d[0]), y(d[1]), s.color, i))}</g>
      )}
      <path d={line(ben) || ''} fill="none" stroke={COL.ben} strokeWidth={2.4} />
      {ben.map((d: Pt, i: number) => glyph('plus', x(d[0]), y(d[1]), COL.ben, 'b' + i))}
      <path d={line(rh) || ''} fill="none" stroke="#000" strokeWidth={1.8} />
      {rh.map((d: Pt, i: number) => <circle key={'r' + i} cx={x(d[0])} cy={y(d[1])} r={5.2} fill="none" stroke="#000" strokeWidth={1.5} />)}
      {/* y axis */}
      <line x1={107} x2={107} y1={y0} y2={y1} stroke="#222" strokeWidth={2} />
      {ticks.map((t: number, i: number) => (
        <g key={'t' + i}>
          <line x1={93} x2={107} y1={y(t)} y2={y(t)} stroke="#222" strokeWidth={2} />
          <text x={70} y={y(t) + 8} textAnchor="end" fontSize={24} fontFamily={FONT}>{labels[i]}</text>
        </g>
      ))}
      <text transform={`translate(35,${titleY}) rotate(-90)`} textAnchor="middle" fontSize={25} fontFamily={FONT}>
        {'Bulk δ'}<tspan fontSize={15} dy={-10}>{iso}</tspan><tspan dy={10}>{title}</tspan>
      </text>
    </g>
  );
}

export default function App() {
  const barTop = 985, barBot = 1013;
  return (
    <div style={{ position: 'absolute', left: 0, top: 0, background: '#fff' }}>
      <svg width={1257} height={1093} style={{ display: 'block' }}>
        <rect width={1257} height={1093} fill="#fff" />
        <Panel y={yC} scatter={scatterC} ben={benGurionC} rh={rhC} ticks={yTicksC} labels={yLabelsC} iso="13" title="C (‰, VPDB )" titleY={258} />
        <Panel y={yO} scatter={scatterO} ben={benGurionO} rh={rhO} ticks={yTicksO} labels={yLabelsO} iso="18" title="O (‰, VPDB )" titleY={714} />

        {/* legend: open ocean */}
        <text x={132} y={89} fontSize={24.5} fontFamily={FONT}>Open ocean Sites:</text>
        {glyph('circle', 353, 51, COL.o1051, 'l1')}
        {glyph('tri', 353, 81, COL.o1262, 'l2')}
        {glyph('sq', 353, 110, COL.o577, 'l3')}
        <text x={378} y={58} fontSize={21} fontFamily={FONT}>ODP 1051</text>
        <text x={378} y={88} fontSize={21} fontFamily={FONT}>ODP 1262</text>
        <text x={378} y={117} fontSize={21} fontFamily={FONT}>ODP 577</text>

        {/* legend: marginal */}
        <text x={530} y={89} fontSize={24.5} fontFamily={FONT}>Marginal Sites:</text>
        {glyph('x', 708, 23, COL.contessa, 'l4')}
        {glyph('sqm', 708, 53, COL.mead, 'l5')}
        {glyph('ast', 708, 83, COL.possagno, 'l6')}
        <line x1={697} y1={104} x2={720} y2={119} stroke={COL.ben} strokeWidth={2.4} />
        {glyph('plus', 708, 111, COL.ben, 'l7')}
        <line x1={697} y1={133} x2={720} y2={148} stroke="#000" strokeWidth={1.8} />
        <circle cx={708} cy={140} r={5.2} fill="none" stroke="#000" strokeWidth={1.5} />
        <text x={732} y={30} fontSize={21} fontFamily={FONT}>Contessa</text>
        <text x={732} y={60} fontSize={21} fontFamily={FONT}>Mead stream</text>
        <text x={732} y={90} fontSize={21} fontFamily={FONT}>Possagno</text>
        <text x={732} y={119} fontSize={21} fontFamily={FONT}>Ben Gurion</text>
        <text x={732} y={148} fontSize={21} fontFamily={FONT}>RH−323</text>

        {/* epoch bar */}
        {epochs.map((e, i) => (
          <g key={e.name}>
            <rect x={x(e.from)} y={barTop} width={x(e.to) - x(e.from)} height={barBot - barTop}
              fill={i === 0 ? '#F9B283' : '#F59B63'} stroke="#111" strokeWidth={2} />
            <text x={x(e.labelAt)} y={barTop + 22} textAnchor="middle" fontSize={24} fontFamily={FONT}>{e.name}</text>
          </g>
        ))}
        {/* x axis */}
        {xTicks.map(t => (
          <line key={t} x1={x(t)} x2={x(t)} y1={barBot} y2={barBot + 8} stroke="#111" strokeWidth={1.5} />
        ))}
        {xTickLabels.map(t => (
          <text key={'l' + t} x={x(t)} y={1054} textAnchor="middle" fontSize={24} fontFamily={FONT}>{t}</text>
        ))}
        <text x={706} y={1089} textAnchor="middle" fontSize={24} fontFamily={FONT}>Age (Ma)</text>
      </svg>
    </div>
  );
}
